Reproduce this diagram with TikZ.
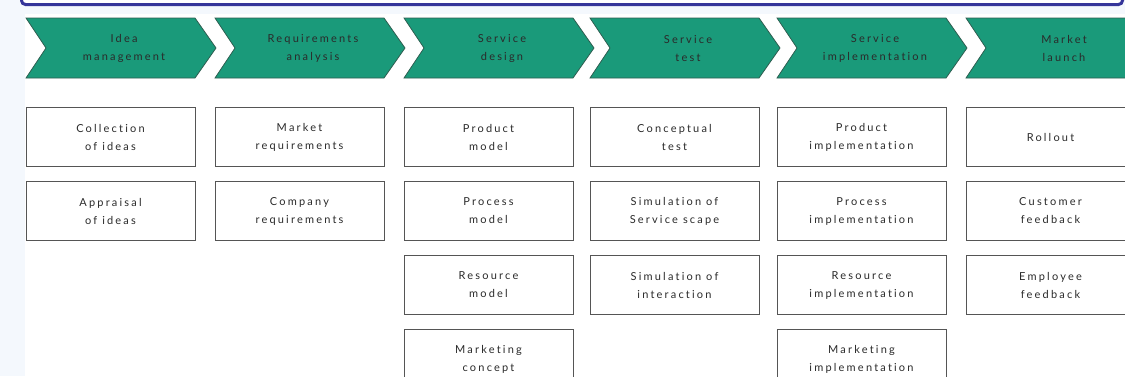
\documentclass[tikz,border=0pt]{standalone}
\usepackage{fontspec}
\setmainfont[LetterSpace=20,Ligatures={NoCommon}]{Lato}
\definecolor{bgblue}{HTML}{F4F8FD}
\definecolor{framecol}{HTML}{35359A}
\definecolor{chevfill}{HTML}{1A9A7A}
\definecolor{chevline}{HTML}{2E5E50}
\definecolor{boxline}{HTML}{555555}
\definecolor{txt}{HTML}{2A2A2A}
\begin{document}
\begin{tikzpicture}[x=1pt,y=-1pt,
  chev/.style={fill=chevfill,draw=chevline,line width=0.8pt,line join=miter},
  chevtext/.style={align=center,text=txt,font=\fontsize{11}{18}\selectfont,inner sep=0pt},
  stepbox/.style={draw=boxline,line width=1pt,fill=white,minimum width=169pt,minimum height=59pt,
    align=center,text=txt,font=\fontsize{11}{18}\selectfont,inner sep=0pt}]
\useasboundingbox (0,0) rectangle (1125,376);
\clip (0,0) rectangle (1125,376);
\fill[bgblue] (0,0) rectangle (1125,376);
\fill[white] (25,14) rectangle (1125,376);
\fill[white] (22,-20) rectangle (1122,3);
\draw[framecol,line width=3pt,rounded corners=4pt] (21.5,-30) rectangle (1122.5,4.5);
% chevrons
\foreach \L/\nm/\lab in {26/c1/{Idea\\management},215/c2/{Requirements\\analysis},404/c3/{Service\\design},
  590/c4/{Service\\test},777/c5/{Service\\implementation},966/c6/{Market\\launch}}{
  \draw[chev] (\L,18) -- (\L+169,18) -- (\L+190,48) -- (\L+169,78) -- (\L,78) -- (\L+20,48) -- cycle;
  \node[chevtext] (\nm) at (\L+98,48.5) {\lab};
}
% boxes
\node[stepbox] (a1) at (110.5,137) {Collection\\of ideas};
\node[stepbox] (a2) at (110.5,211) {Appraisal\\of ideas};
\node[stepbox] (b1) at (299.5,137) {Market\\requirements};
\node[stepbox] (b2) at (299.5,211) {Company\\requirements};
\node[stepbox] (d1) at (488.5,137) {Product\\model};
\node[stepbox] (d2) at (488.5,211) {Process\\model};
\node[stepbox] (d3) at (488.5,285) {Resource\\model};
\node[stepbox] (d4) at (488.5,359) {Marketing\\concept};
\node[stepbox] (t1) at (674.5,137) {Conceptual\\test};
\node[stepbox] (t2) at (674.5,211) {Simulation of\\Service scape};
\node[stepbox] (t3) at (674.5,285) {Simulation of\\interaction};
\node[stepbox] (i1) at (861.5,137) {Product\\implementation};
\node[stepbox] (i2) at (861.5,211) {Process\\implementation};
\node[stepbox] (i3) at (861.5,285) {Resource\\implementation};
\node[stepbox] (i4) at (861.5,359) {Marketing\\implementation};
\node[stepbox] (m1) at (1050.5,137) {Rollout};
\node[stepbox] (m2) at (1050.5,211) {Customer\\feedback};
\node[stepbox] (m3) at (1050.5,285) {Employee\\feedback};
\end{tikzpicture}
\end{document}
